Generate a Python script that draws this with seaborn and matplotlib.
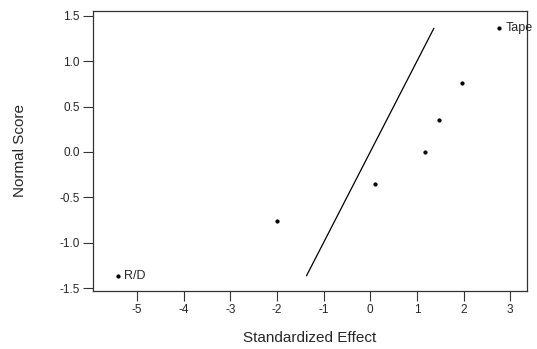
import matplotlib
matplotlib.use("Agg")
import matplotlib.pyplot as plt
import seaborn as sns
import pandas as pd

effects = [-5.41, -2.0, 0.1, 1.18, 1.48, 1.97, 2.76]
scores = [-1.365, -0.758, -0.353, 0.0, 0.353, 0.758, 1.365]
labels = ["R/D", "", "", "", "", "", "Tape"]
line_x = [-1.365, 1.365]
line_y = [-1.365, 1.365]
xticks = [-5, -4, -3, -2, -1, 0, 1, 2, 3]
yticks = [-1.5, -1.0, -0.5, 0.0, 0.5, 1.0, 1.5]

sns.set_style("white")
plt.rcParams['font.family'] = ['Liberation Sans', 'DejaVu Sans']

fig = plt.figure(figsize=(5.37, 3.49), dpi=100)
ax = fig.add_axes([0.1732, 0.1662, 0.8082, 0.8023])

df = pd.DataFrame({"x": effects, "y": scores, "lab": labels})
sns.lineplot(x=line_x, y=line_y, ax=ax, color="black", linewidth=0.9)
sns.scatterplot(data=df, x="x", y="y", ax=ax, color="black", s=7, edgecolor="black", linewidth=0.3)
for xv, yv, lab in zip(effects, scores, labels):
    if lab:
        ax.annotate(lab, (xv, yv), xytext=(4.5, 0), textcoords="offset points",
                    va="center", ha="left", fontsize=9, annotation_clip=False, clip_on=False)

ax.set_xlim(-5.94, 3.36)
ax.set_ylim(-1.533, 1.555)
ax.set_xticks(xticks)
ax.set_xticklabels([str(t) for t in xticks])
ax.set_yticks(yticks)
ax.set_yticklabels([f"{t:.1f}" for t in yticks])
ax.tick_params(axis="both", direction="out", length=7, width=0.8, color="#333333", labelsize=8.5, pad=2.5, bottom=True, left=True)
for sp in ax.spines.values():
    sp.set_color("#333333")
    sp.set_linewidth(0.9)
ax.set_xlabel("Standardized Effect", fontsize=11)
ax.set_ylabel("Normal Score", fontsize=11)
ax.xaxis.set_label_coords(0.5, -0.143)
ax.yaxis.set_label_coords(-0.152, 0.5)

fig.savefig("out.png", dpi=100)
